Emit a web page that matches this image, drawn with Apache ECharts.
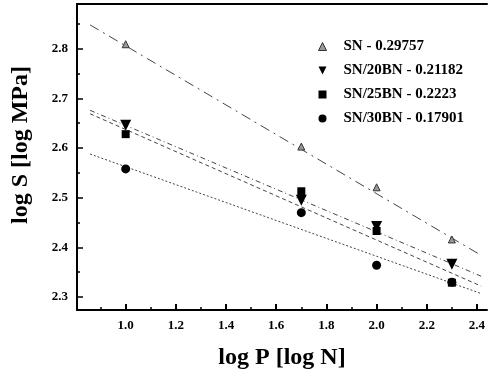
<!DOCTYPE html>
<html>
<head>
<meta charset="utf-8">
<script src="https://cdn.jsdelivr.net/npm/echarts@6/dist/echarts.min.js"></script>
<style>
  html, body {margin: 0; padding: 0; background: #fff;}
  #chart {width: 489px; height: 371px;}
</style>
</head>
<body>
<div id="chart"></div>
<script>
// measured points
const xVals = [1.0, 1.7, 2.0, 2.3];
const sn = [2.809, 2.603, 2.521, 2.416];
const sn20 = [2.646, 2.495, 2.442, 2.366];
const sn25 = [2.628, 2.513, 2.433, 2.329];
const sn30 = [2.558, 2.470, 2.364, 2.330];

// fitted lines (start / end)
const fitX = [0.858, 2.417];
const snFit = [2.848, 2.384];
const sn20Fit = [2.676, 2.342];
const sn25Fit = [2.669, 2.322];
const sn30Fit = [2.588, 2.307];

const names = ['SN - 0.29757', 'SN/20BN - 0.21182', 'SN/25BN - 0.2223', 'SN/30BN - 0.17901'];

const xTicks = [1.0, 1.2, 1.4, 1.6, 1.8, 2.0, 2.2, 2.4];
const xMinor = [0.9, 1.1, 1.3, 1.5, 1.7, 1.9, 2.1, 2.3];
const yTicks = [2.3, 2.4, 2.5, 2.6, 2.7, 2.8];
const yMinor = [2.35, 2.45, 2.55, 2.65, 2.75, 2.85];

const X_MIN = 0.806, X_MAX = 2.44;
const Y_MIN = 2.274, Y_MAX = 2.89;

const serif = 'Liberation Serif';
const downTri = 'path://M0,0 L10,0 L5,10 Z';

const pts = (ys) => xVals.map((x, i) => [x, ys[i]]);
const fit = (ys) => fitX.map((x, i) => [x, ys[i]]);

const chart = echarts.init(document.getElementById('chart'));

const lineSeries = (data, dash) => ({
  type: 'line',
  data: fit(data),
  symbol: 'none',
  silent: true,
  z: 1,
  lineStyle: {color: '#444', width: 1, type: dash}
});

const dotSeries = (name, data, symbol, size, color, border) => ({
  name,
  type: 'scatter',
  data: pts(data),
  symbol,
  symbolSize: size,
  z: 3,
  itemStyle: {color, borderColor: border || color, borderWidth: border ? 1 : 0, opacity: 1}
});

chart.setOption({
  animation: false,
  grid: {left: 77, top: 4, right: 2, bottom: 61, containLabel: false, outerBoundsMode: 'none'},
  legend: {
    orient: 'vertical',
    left: 313,
    top: 34,
    itemGap: 9,
    itemWidth: 8,
    itemHeight: 8,
    textStyle: {fontFamily: serif, fontWeight: 'bold', fontSize: 15, color: '#000', padding: [0, 0, 0, 12]},
    data: [
      {name: names[0], icon: 'triangle', itemStyle: {color: '#999', borderColor: '#333', borderWidth: 1}},
      {name: names[1], icon: downTri},
      {name: names[2], icon: 'rect'},
      {name: names[3], icon: 'circle'}
    ]
  },
  xAxis: [{
    type: 'value',
    min: X_MIN,
    max: X_MAX,
    name: 'log P [log N]',
    nameLocation: 'middle',
    nameGap: 36,
    nameTextStyle: {fontFamily: serif, fontWeight: 'bold', fontSize: 24, color: '#000'},
    axisLine: {lineStyle: {color: '#000', width: 2}},
    axisTick: {inside: true, length: 6, lineStyle: {color: '#000', width: 2}, customValues: xTicks},
    axisLabel: {customValues: xTicks, margin: 9, fontFamily: serif, fontWeight: 'bold', fontSize: 13, color: '#000',
      formatter: v => v.toFixed(1)},
    splitLine: {show: false}
  }, {
    type: 'value',
    min: X_MIN,
    max: X_MAX,
    position: 'bottom',
    axisLine: {show: false},
    axisTick: {inside: true, length: 3, lineStyle: {color: '#000', width: 1.5}, customValues: xMinor},
    axisLabel: {show: false},
    splitLine: {show: false}
  }, {
    type: 'value',
    min: X_MIN,
    max: X_MAX,
    position: 'top',
    axisLine: {lineStyle: {color: '#000', width: 2}},
    axisTick: {show: false},
    axisLabel: {show: false},
    splitLine: {show: false}
  }],
  yAxis: [{
    type: 'value',
    min: Y_MIN,
    max: Y_MAX,
    name: 'log S [log MPa]',
    nameLocation: 'middle',
    nameGap: 44,
    nameTextStyle: {fontFamily: serif, fontWeight: 'bold', fontSize: 24, color: '#000', padding: [0, 0, 0, 24]},
    axisLine: {lineStyle: {color: '#000', width: 2}},
    axisTick: {inside: true, length: 6, lineStyle: {color: '#000', width: 1.5}, customValues: yTicks},
    axisLabel: {customValues: yTicks, margin: 9, fontFamily: serif, fontWeight: 'bold', fontSize: 13, color: '#000',
      formatter: v => v.toFixed(1)},
    splitLine: {show: false}
  }, {
    type: 'value',
    min: Y_MIN,
    max: Y_MAX,
    position: 'left',
    axisLine: {show: false},
    axisTick: {inside: true, length: 3, lineStyle: {color: '#000', width: 1.5}, customValues: yMinor},
    axisLabel: {show: false},
    splitLine: {show: false}
  }],
  series: [
    lineSeries(snFit, [10, 5, 2, 5]),
    lineSeries(sn20Fit, [5, 3, 1, 3]),
    lineSeries(sn25Fit, [4, 3]),
    lineSeries(sn30Fit, [2, 2]),
    dotSeries(names[0], sn, 'triangle', 7, '#999', '#333'),
    dotSeries(names[1], sn20, downTri, 11, '#000'),
    dotSeries(names[2], sn25, 'rect', 8, '#000'),
    dotSeries(names[3], sn30, 'circle', 9, '#000')
  ]
});
</script>
</body>
</html>
